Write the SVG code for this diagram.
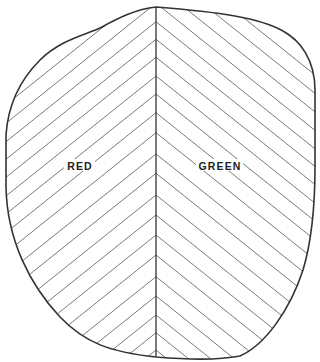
<svg xmlns="http://www.w3.org/2000/svg" width="320" height="362" viewBox="0 0 320 362">
<style>
.hatch{stroke:#7a7a7a;stroke-width:1;fill:none}
.outline{stroke:#333;stroke-width:1.6;fill:none;stroke-linejoin:round}
.mid{stroke:#333;stroke-width:1.3}
.lbl{font-family:"Liberation Sans",Arial,sans-serif;font-weight:bold;font-size:10.5px;letter-spacing:1.1px;fill:#222;text-anchor:middle}
</style>
<defs>
<clipPath id="clipL"><path d="M156,7 C135,9 115,20 100,28 C85,35 60,40 40,60 C20,80 8,105 6,135 L6,187 C7,240 30,285 60,317 C85,343 110,352 156,357 Z"/></clipPath>
<clipPath id="clipR"><path d="M156,357 C180,359 215,361 240,356 C265,345 290,310 303,270 C312,240 315,200 315,167 L315,90 C315,60 300,40 283,31 C260,18 220,12 156,7 Z"/></clipPath>
</defs>
<rect width="320" height="362" fill="#fff"/>
<g id="red-region">
<g class="hatch" clip-path="url(#clipL)">
<path d="M156,-70.8 L0,54 M156,-52.3 L0,72.5 M156,-33.8 L0,91 M156,-15.3 L0,109.5 M156,3.2 L0,128 M156,21.7 L0,146.5 M156,39.3 L0,164.1 M156,57.3 L0,182.1 M156,76 L0,200.8 M156,94 L0,218.8 M156,112.7 L0,237.5 M156,132.7 L0,257.5 M156,154 L0,278.8 M156,173.3 L0,298.1 M156,195 L0,319.8 M156,215 L0,339.8 M156,235 L0,359.8 M156,255 L0,379.8 M156,276.7 L0,401.5 M156,296 L0,420.8 M156,315 L0,439.8 M156,332.7 L0,457.5 M156,350 L0,474.8"/>
</g>
<rect x="64" y="159" width="31" height="12" fill="#fff"/>
<text class="lbl" x="80" y="169.5">RED</text>
</g>
<g id="green-region">
<g class="hatch" clip-path="url(#clipR)">
<path d="M156,-70.8 L320,60.4 M156,-52.3 L320,78.9 M156,-33.8 L320,97.4 M156,-15.3 L320,115.9 M156,3.2 L320,134.4 M156,21.7 L320,152.9 M156,39.3 L320,170.5 M156,57.3 L320,188.5 M156,76 L320,207.2 M156,94 L320,225.2 M156,112.7 L320,243.9 M156,132.7 L320,263.9 M156,154 L320,285.2 M156,173.3 L320,304.5 M156,195 L320,326.2 M156,215 L320,346.2 M156,235 L320,366.2 M156,255 L320,386.2 M156,276.7 L320,407.9 M156,296 L320,427.2 M156,315 L320,446.2 M156,332.7 L320,463.9 M156,350 L320,481.2"/>
</g>
<rect x="196" y="159" width="47" height="12" fill="#fff"/>
<text class="lbl" x="220" y="169.5">GREEN</text>
</g>
<g id="connectors">
<path class="outline" d="M156,7 C135,9 115,20 100,28 C85,35 60,40 40,60 C20,80 8,105 6,135 L6,187 C7,240 30,285 60,317 C85,343 110,352 156,357 C180,359 215,361 240,356 C265,345 290,310 303,270 C312,240 315,200 315,167 L315,90 C315,60 300,40 283,31 C260,18 220,12 156,7 Z"/>
<line class="mid" x1="156" y1="7" x2="156" y2="357"/>
</g>
</svg>
